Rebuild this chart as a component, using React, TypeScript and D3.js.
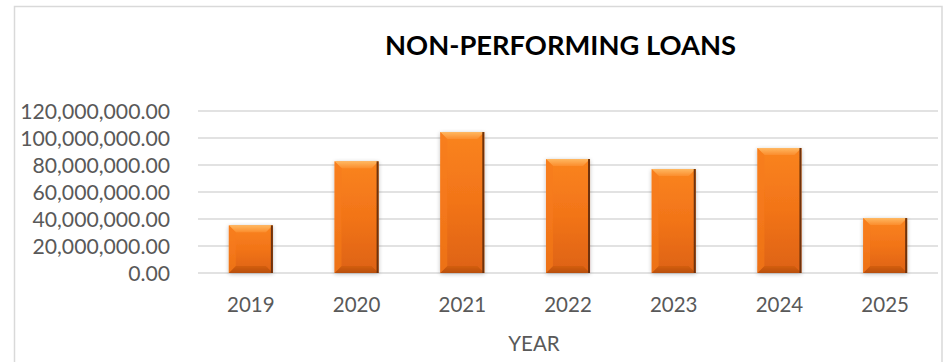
import React from "react";
import * as d3 from "d3";

const years = ["2019", "2020", "2021", "2022", "2023", "2024", "2025"];
const loans = [35300000, 82700000, 104400000, 84400000, 77000000, 92600000, 40700000];
const yTicks = [0, 20000000, 40000000, 60000000, 80000000, 100000000, 120000000];
const title = "NON-PERFORMING LOANS";
const xTitle = "YEAR";

const W = 948;
const H = 362;
const plot = { left: 198, right: 938, top: 111, bottom: 273 };

export default function App() {
  const x = d3
    .scaleBand<string>()
    .domain(years)
    .range([plot.left, plot.right])
    .paddingInner(1.4 / 2.4)
    .paddingOuter(0.7 / 2.4);
  const y = d3.scaleLinear().domain([0, 120000000]).range([plot.bottom, plot.top]);
  const fmt = d3.format(",.2f");
  const font = "Lato, 'Open Sans', sans-serif";
  const bw = x.bandwidth();

  return (
    <svg
      width={W}
      height={H}
      viewBox={`0 0 ${W} ${H}`}
      style={{ position: "absolute", left: 0, top: 0, background: "#fff" }}
    >
      <defs>
        <linearGradient id="barBody" x1="0" y1="0" x2="0" y2="1">
          <stop offset="0" stopColor="#FA8420" />
          <stop offset="0.5" stopColor="#F27418" />
          <stop offset="1" stopColor="#DD6212" />
        </linearGradient>
        <linearGradient id="barTop" x1="0" y1="0" x2="0" y2="1">
          <stop offset="0" stopColor="#FFB862" />
          <stop offset="1" stopColor="#FB8D2C" />
        </linearGradient>
        <linearGradient id="barBottom" x1="0" y1="0" x2="0" y2="1">
          <stop offset="0" stopColor="#D45E0F" />
          <stop offset="1" stopColor="#B84F0B" />
        </linearGradient>
        <filter id="glow" x="-30%" y="-10%" width="160%" height="120%">
          <feGaussianBlur in="SourceAlpha" stdDeviation="2" />
          <feOffset dx="0" dy="1" result="b" />
          <feComponentTransfer>
            <feFuncA type="linear" slope="0.25" />
          </feComponentTransfer>
          <feMerge>
            <feMergeNode />
            <feMergeNode in="SourceGraphic" />
          </feMerge>
        </filter>
      </defs>

      <rect x={14.5} y={6.5} width={927.5} height={370} fill="#fff" stroke="#d9d9d9" strokeWidth={1.5} />

      <text
        x={385}
        y={54.5}
        textLength={351}
        lengthAdjust="spacingAndGlyphs"
        fontFamily={font}
        fontWeight={700}
        fontSize={27}
        fill="#000"
      >
        {title}
      </text>

      {yTicks.map((t) => (
        <g key={t}>
          <line
            x1={plot.left}
            x2={plot.right}
            y1={y(t)}
            y2={y(t)}
            stroke="#d9d9d9"
            strokeWidth={1.5}
          />
          <text
            x={170}
            y={y(t)}
            dy="0.36em"
            textAnchor="end"
            fontFamily={font}
            fontSize={21.2}
            fill="#595959"
          >
            {fmt(t)}
          </text>
        </g>
      ))}

      {years.map((yr, i) => {
        const x0 = x(yr)!;
        const top = y(loans[i]);
        const bot = y(0);
        const h = bot - top;
        const bev = Math.min(7, h / 4);
        return (
          <g key={yr} filter="url(#glow)">
            <rect x={x0} y={top} width={bw} height={h} fill="url(#barBody)" />
            <path
              d={`M${x0},${top} L${x0 + bw},${top} L${x0 + bw - bev},${top + bev} L${x0 + bev},${top + bev} Z`}
              fill="url(#barTop)"
            />
            <path
              d={`M${x0},${bot} L${x0 + bw},${bot} L${x0 + bw - bev},${bot - bev} L${x0 + bev},${bot - bev} Z`}
              fill="url(#barBottom)"
            />
            <path
              d={`M${x0},${top} L${x0 + bev},${top + bev} L${x0 + bev},${bot - bev} L${x0},${bot} Z`}
              fill="#F67C1C"
              opacity={0.6}
            />
            <rect x={x0 + bw - 2} y={top} width={2} height={h} fill="#6E3108" />
          </g>
        );
      })}

      {years.map((yr) => (
        <text
          key={yr}
          x={x(yr)! + bw / 2}
          y={305}
          dy="0.36em"
          textAnchor="middle"
          fontFamily={font}
          fontSize={20.5}
          fill="#595959"
        >
          {yr}
        </text>
      ))}

      <text
        x={534}
        y={344}
        dy="0.36em"
        textAnchor="middle"
        fontFamily={font}
        fontSize={20.5}
        fill="#595959"
      >
        {xTitle}
      </text>
    </svg>
  );
}
